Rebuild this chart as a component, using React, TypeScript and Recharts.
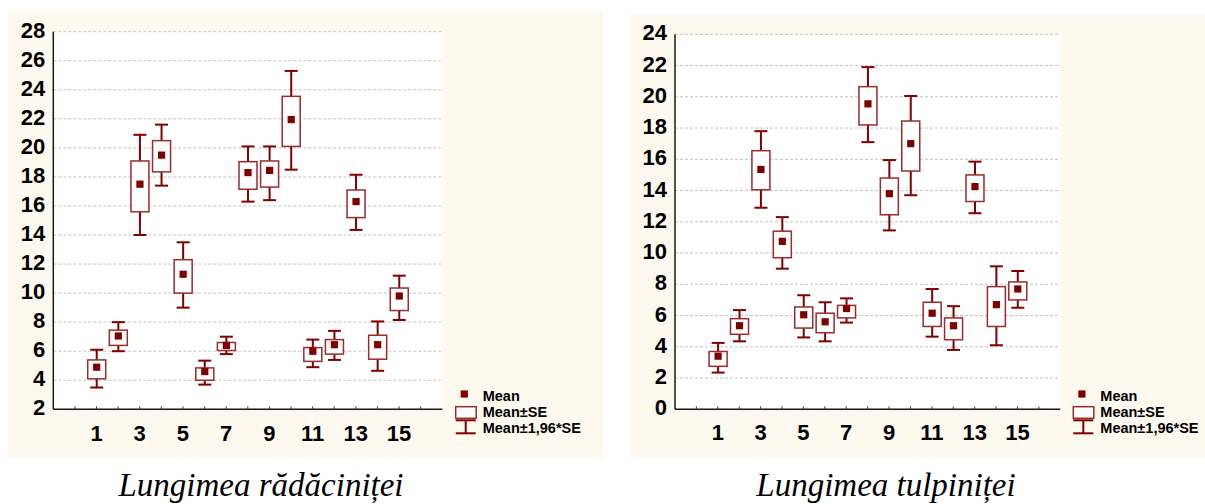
import { ComposedChart, Bar, XAxis, YAxis, CartesianGrid } from "recharts";

// samples 1..15, ticks every unit on x, labels on odd ones
const categories = [1, 2, 3, 4, 5, 6, 7, 8, 9, 10, 11, 12, 13, 14, 15];
const xTickMarks = [0, 1, 2, 3, 4, 5, 6, 7, 8, 9, 10, 11, 12, 13, 14, 15, 16];
const xTickLabels = [1, 3, 5, 7, 9, 11, 13, 15];

// Lungimea rădăciniței
const rootTicks = [2, 4, 6, 8, 10, 12, 14, 16, 18, 20, 22, 24, 26, 28];
const rootMean = [4.9, 7.05, 17.5, 19.5, 11.3, 4.6, 6.4, 18.3, 18.45, 21.95, 6.0, 6.45, 16.3, 6.45, 9.8];
const rootSeLow = [4.1, 6.4, 15.6, 18.35, 10.0, 4.0, 6.05, 17.15, 17.3, 20.1, 5.3, 5.8, 15.2, 5.45, 8.8];
const rootSeHigh = [5.4, 7.45, 19.1, 20.5, 12.3, 4.85, 6.6, 19.05, 19.1, 23.55, 6.25, 6.8, 17.1, 7.1, 10.35];
const rootCiLow = [3.5, 6.0, 14.0, 17.4, 9.0, 3.7, 5.8, 16.3, 16.4, 18.5, 4.9, 5.4, 14.35, 4.65, 8.15];
const rootCiHigh = [6.1, 8.0, 20.9, 21.6, 13.5, 5.35, 7.0, 20.1, 20.1, 25.3, 6.8, 7.4, 18.15, 8.05, 11.2];

// Lungimea tulpiniței
const stemTicks = [0, 2, 4, 6, 8, 10, 12, 14, 16, 18, 20, 22, 24];
const stemMean = [3.4, 5.35, 15.35, 10.75, 6.05, 5.6, 6.45, 19.55, 13.8, 17.0, 6.15, 5.35, 14.25, 6.7, 7.7];
const stemSeLow = [2.75, 4.8, 14.05, 9.7, 5.2, 4.9, 5.85, 18.2, 12.45, 15.25, 5.3, 4.45, 13.3, 5.3, 7.0];
const stemSeHigh = [3.7, 5.8, 16.55, 11.4, 6.55, 6.15, 6.65, 20.65, 14.8, 18.45, 6.85, 5.85, 15.0, 7.85, 8.15];
const stemCiLow = [2.35, 4.35, 12.9, 9.0, 4.6, 4.35, 5.55, 17.1, 11.45, 13.7, 4.65, 3.8, 12.55, 4.1, 6.5];
const stemCiHigh = [4.25, 6.35, 17.8, 12.3, 7.3, 6.85, 7.1, 21.9, 15.95, 20.05, 7.7, 6.6, 15.85, 9.15, 8.85];

const legendLabels = ["Mean", "Mean±SE", "Mean±1,96*SE"];

const DARK = "#800000";
const BOX = "#9a2c2c";
const CREAM = "#fef9ee";
const AXIS = "#1a1a1a";
const SANS = "'Liberation Sans', Arial, sans-serif";

function buildRows(mean: number[], seLow: number[], seHigh: number[], ciLow: number[], ciHigh: number[]) {
  return categories.map((x, i) => ({
    x,
    mean: mean[i],
    seLow: seLow[i],
    seHigh: seHigh[i],
    ciLow: ciLow[i],
    ciHigh: ciHigh[i],
    ci: [ciLow[i], ciHigh[i]],
  }));
}

const rootRows = buildRows(rootMean, rootSeLow, rootSeHigh, rootCiLow, rootCiHigh);
const stemRows = buildRows(stemMean, stemSeLow, stemSeHigh, stemCiLow, stemCiHigh);

// the bar spans the whisker range; box and mean are placed inside it on the same scale
function BoxShape(props: any) {
  const { x, y, width, height, payload } = props;
  if (!payload) return null;
  const top = Math.min(y, y + height);
  const bottom = Math.max(y, y + height);
  const k = (bottom - top) / (payload.ciHigh - payload.ciLow);
  const toY = (v: number) => top + (payload.ciHigh - v) * k;
  const cx = x + width / 2;
  const cap = 6.5;
  const yHi = toY(payload.ciHigh);
  const yLo = toY(payload.ciLow);
  const bTop = toY(payload.seHigh);
  const bBot = toY(payload.seLow);
  const m = toY(payload.mean);
  return (
    <g>
      <line x1={cx} x2={cx} y1={yHi} y2={bTop} stroke={DARK} strokeWidth={2} />
      <line x1={cx} x2={cx} y1={bBot} y2={yLo} stroke={DARK} strokeWidth={2} />
      <line x1={cx - cap} x2={cx + cap} y1={yHi} y2={yHi} stroke={DARK} strokeWidth={2} />
      <line x1={cx - cap} x2={cx + cap} y1={yLo} y2={yLo} stroke={DARK} strokeWidth={2} />
      <rect x={x} y={bTop} width={width} height={bBot - bTop} fill="#fff" stroke={BOX} strokeWidth={1.5} />
      <rect x={cx - 3.6} y={m - 3.6} width={7.2} height={7.2} fill={DARK} />
    </g>
  );
}

function XTick(props: any) {
  const { x, y, payload } = props;
  if (!xTickLabels.includes(payload.value)) return null;
  return (
    <text x={x} y={y} dy={15.5} textAnchor="middle" fontFamily={SANS} fontWeight={700} fontSize={22} fill="#000">
      {payload.value}
    </text>
  );
}

function YTick(props: any) {
  const { x, y, payload } = props;
  return (
    <text x={x} y={y} dy={6} textAnchor="end" fontFamily={SANS} fontWeight={700} fontSize={22} fill="#000">
      {payload.value}
    </text>
  );
}

function Legend({ left, meanY }: { left: number; meanY: number }) {
  const tx = left + 27;
  return (
    <svg style={{ position: "absolute", left: 0, top: 0, overflow: "visible" }} width={1} height={1}>
      <rect x={left + 5} y={meanY - 3.6} width={7.2} height={7.2} fill={DARK} />
      <rect x={left} y={meanY + 12.7} width={20.5} height={11.6} fill="#fff" stroke={BOX} strokeWidth={1.5} />
      <line x1={left} x2={left + 20} y1={meanY + 26.3} y2={meanY + 26.3} stroke={DARK} strokeWidth={2} />
      <line x1={left} x2={left + 20} y1={meanY + 39.3} y2={meanY + 39.3} stroke={DARK} strokeWidth={2} />
      <line x1={left + 10} x2={left + 10} y1={meanY + 26.3} y2={meanY + 39.3} stroke={DARK} strokeWidth={2} />
      {legendLabels.map((t, i) => (
        <text
          key={t}
          x={tx}
          y={meanY + [1.7, 18.3, 34.3][i]}
          dy={5}
          fontFamily={SANS}
          fontWeight={700}
          fontSize={14.5}
          fill="#000"
        >
          {t}
        </text>
      ))}
    </svg>
  );
}

type PanelProps = {
  left: number;
  top: number;
  width: number;
  height: number;
  margin: { top: number; right: number; bottom: number; left: number };
  yAxisWidth: number;
  xTickMargin: number;
  rows: any[];
  yTicks: number[];
  legendLeft: number;
  legendMeanY: number;
};

function StatPanel(p: PanelProps) {
  const domain: [number, number] = [p.yTicks[0], p.yTicks[p.yTicks.length - 1]];
  return (
    <div style={{ position: "absolute", left: p.left, top: p.top, width: p.width, height: p.height, background: CREAM }}>
      <ComposedChart width={p.width} height={p.height} data={p.rows} margin={p.margin}>
        <CartesianGrid vertical={false} stroke="#c4c4c4" strokeDasharray="3 2" fill="#fff" />
        <XAxis
          dataKey="x"
          type="number"
          domain={[-1, 17]}
          ticks={xTickMarks}
          interval={0}
          tickSize={-3}
          tickMargin={p.xTickMargin}
          height={40}
          tick={<XTick />}
          axisLine={{ stroke: AXIS, strokeWidth: 1.5 }}
          tickLine={{ stroke: "#444", strokeWidth: 1 }}
        />
        <XAxis
          xAxisId="top"
          orientation="top"
          dataKey="x"
          type="number"
          domain={[-1, 17]}
          ticks={xTickMarks}
          interval={0}
          tick={false}
          tickSize={-3}
          height={0}
          axisLine={{ stroke: AXIS, strokeWidth: 1.5 }}
          tickLine={{ stroke: "#444", strokeWidth: 1 }}
        />
        <YAxis
          type="number"
          domain={domain}
          ticks={p.yTicks}
          interval={0}
          tickSize={0}
          tickMargin={8}
          width={p.yAxisWidth}
          tick={<YTick />}
          axisLine={{ stroke: AXIS, strokeWidth: 1.5 }}
        />
        <YAxis
          yAxisId="right"
          orientation="right"
          type="number"
          domain={domain}
          ticks={p.yTicks}
          interval={0}
          tick={false}
          tickSize={-3}
          width={0}
          axisLine={{ stroke: AXIS, strokeWidth: 1.5 }}
          tickLine={{ stroke: "#444", strokeWidth: 1 }}
        />
        <Bar dataKey="ci" barSize={18} shape={BoxShape} isAnimationActive={false} />
      </ComposedChart>
      <Legend left={p.legendLeft} meanY={p.legendMeanY} />
    </div>
  );
}

const titleStyle: React.CSSProperties = {
  position: "absolute",
  width: 420,
  top: 469,
  textAlign: "center",
  fontFamily: "'Liberation Serif', 'Times New Roman', serif",
  fontStyle: "italic",
  fontSize: 33,
  lineHeight: "33px",
  color: "#000",
  whiteSpace: "nowrap",
};

export default function App() {
  return (
    <div style={{ position: "absolute", left: 0, top: 0, width: 1205, height: 504, background: "#fff", overflow: "hidden" }}>
      <StatPanel
        left={8}
        top={10}
        width={595}
        height={448}
        margin={{ top: 21.7, right: 160.7, bottom: 8.7, left: 0 }}
        yAxisWidth={45.3}
        xTickMargin={19}
        rows={rootRows}
        yTicks={rootTicks}
        legendLeft={447.7}
        legendMeanY={384}
      />
      <StatPanel
        left={630}
        top={15}
        width={575}
        height={443}
        margin={{ top: 19.3, right: 144.7, bottom: 8.7, left: 0 }}
        yAxisWidth={45}
        xTickMargin={18}
        rows={stemRows}
        yTicks={stemTicks}
        legendLeft={443.3}
        legendMeanY={379}
      />
      <div style={{ ...titleStyle, left: 261 - 210 }}>Lungimea rădăciniței</div>
      <div style={{ ...titleStyle, left: 886 - 210 }}>Lungimea tulpiniței</div>
    </div>
  );
}
